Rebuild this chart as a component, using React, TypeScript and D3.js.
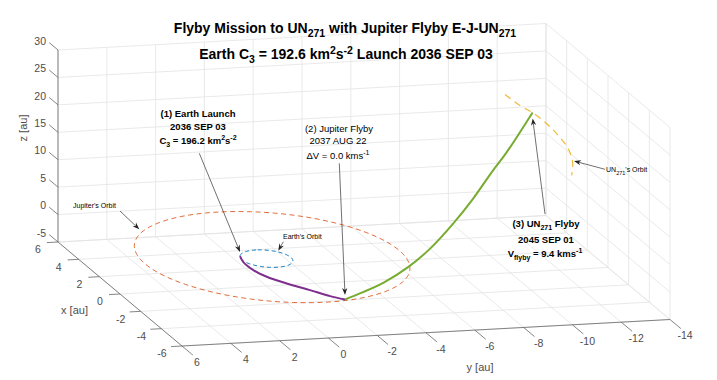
import React, { useLayoutEffect } from 'react';
import * as d3 from 'd3';

const W = 717;
const H = 380;

// Axis limits and ticks
const xLim = [6, -6];
const yLim = [6, -14];
const zLim = [-5, 30];
const xTicks = [-6, -4, -2, 0, 2, 4, 6];
const yTicks = [-14, -12, -10, -8, -6, -4, -2, 0, 2, 4, 6];
const zTicks = [-5, 0, 5, 10, 15, 20, 25, 30];

// Planet orbits (centre x, centre y, radius) in au, ecliptic plane z = 0
const earthOrbit = [0, 0, 1.0];
const jupiterOrbit = [0.13, -0.29, 5.2];

// Leg 1: Earth -> Jupiter
const leg1X = [0.43, -0.21, -1.17, -1.97, -2.81, -3.67, -4.44, -4.89];
const leg1Y = [0.9, 1.04, 1.03, 0.82, 0.36, -0.23, -0.73, -1.15];
const leg1Z = [0, 0, 0, 0, 0, 0, 0, 0];

// Leg 2: Jupiter -> UN271
const leg2X = [-4.89, -4.26, -3.28, -2.22, -1.32, -0.34, 0.51, 1.28, 1.91, 3.0];
const leg2Y = [-1.15, -2.03, -3.4, -4.88, -6.15, -7.51, -8.69, -9.78, -10.66, -12.18];
const leg2Z = [0, -0.1, -0.06, 0.82, 2.42, 5.1, 8.04, 11.39, 13.82, 18.97];

// UN271 orbit arc
const unX = [3, 3, 3, 3, 3, 3, 3, 3];
const unY = [-11.05, -11.66, -12.18, -12.76, -13.23, -13.64, -13.82, -13.78];
const unZ = [22.52, 20.37, 18.91, 16.76, 14.52, 11.99, 9.5, 7.09];

const FONT = '"Liberation Sans", Arial, Helvetica, sans-serif';

export default function App() {
  useLayoutEffect(() => {
    document.body.style.margin = '0';
  }, []);

  const sX = d3.scaleLinear().domain(xLim).range([0, 1]);
  const sY = d3.scaleLinear().domain(yLim).range([0, 1]);
  const sZ = d3.scaleLinear().domain(zLim).range([0, 1]);
  const O = [58, 242];
  const EX = [124, 104];
  const EY = [488, -26.5];
  const EZ = [0, -192];
  const P = (x: number, y: number, z: number): [number, number] => {
    const a = sX(x), b = sY(y), c = sZ(z);
    return [O[0] + a * EX[0] + b * EY[0] + c * EZ[0], O[1] + a * EX[1] + b * EY[1] + c * EZ[1]];
  };
  const seg = (a: number[], b: number[]) => `M${a[0]},${a[1]}L${b[0]},${b[1]}`;
  const smooth = d3.line<[number, number]>().x((d) => d[0]).y((d) => d[1]).curve(d3.curveCatmullRom);
  const poly = d3.line<[number, number]>().x((d) => d[0]).y((d) => d[1]);

  const grid: string[] = [];
  xTicks.forEach((x) => {
    grid.push(seg(P(x, 6, -5), P(x, -14, -5)));
    grid.push(seg(P(x, -14, -5), P(x, -14, 30)));
  });
  yTicks.forEach((y) => {
    grid.push(seg(P(-6, y, -5), P(6, y, -5)));
    grid.push(seg(P(6, y, -5), P(6, y, 30)));
  });
  zTicks.forEach((z) => {
    grid.push(seg(P(6, 6, z), P(6, -14, z)));
    grid.push(seg(P(6, -14, z), P(-6, -14, z)));
  });

  const circle = (o: number[]) =>
    poly(d3.range(0, 361, 2).map((deg) => {
      const t = (deg * Math.PI) / 180;
      return P(o[0] + o[2] * Math.cos(t), o[1] + o[2] * Math.sin(t), 0);
    }));

  const leg1 = smooth(leg1X.map((x, i) => P(x, leg1Y[i], leg1Z[i])));
  const leg2 = smooth(leg2X.map((x, i) => P(x, leg2Y[i], leg2Z[i])));
  const unArc = smooth(unX.map((x, i) => P(x, unY[i], unZ[i])));

  const tickCol = '#4d4d4d';
  const arrow = (x1: number, y1: number, x2: number, y2: number, key: string) => {
    const dx = x2 - x1, dy = y2 - y1;
    const len = Math.hypot(dx, dy);
    const ux = dx / len, uy = dy / len;
    const nx = -uy, ny = ux;
    const L = 7, w = 2.6;
    const pts = [
      [x2, y2],
      [x2 - L * ux + w * nx, y2 - L * uy + w * ny],
      [x2 - 0.7 * L * ux, y2 - 0.7 * L * uy],
      [x2 - L * ux - w * nx, y2 - L * uy - w * ny],
    ];
    return (
      <g key={key}>
        <path d={`M${x1},${y1}L${x2 - 0.7 * L * ux},${y2 - 0.7 * L * uy}`} stroke="#333" strokeWidth={0.7} fill="none" />
        <polygon points={pts.map((p) => p.join(',')).join(' ')} fill="#222" />
      </g>
    );
  };

  return (
    <svg width={W} height={H} style={{ display: 'block', position: 'absolute', left: 0, top: 0, background: '#fff' }} fontFamily={FONT}>
      <rect width={W} height={H} fill="#fff" />
      {/* grid */}
      <g stroke="#e3e3e3" strokeWidth={0.8} fill="none">
        {grid.map((d, i) => (
          <path key={i} d={d} />
        ))}
      </g>
      {/* axis lines */}
      <g stroke="#666" strokeWidth={0.8} fill="none">
        <path d={seg(P(6, 6, -5), P(6, 6, 30))} />
        <path d={seg(P(6, 6, -5), P(-6, 6, -5))} />
        <path d={seg(P(-6, 6, -5), P(-6, -14, -5))} />
      </g>
      {/* ticks and labels */}
      <g stroke="#666" strokeWidth={0.8}>
        {zTicks.map((z) => {
          const a = P(6, 6, z);
          return <path key={'zt' + z} d={seg(a, [a[0] - 8.8, a[1] - 7.4])} />;
        })}
        {xTicks.map((x) => {
          const a = P(x, 6, -5);
          return <path key={'xt' + x} d={seg(a, [a[0] - 11, a[1] + 0.6])} />;
        })}
        {yTicks.map((y) => {
          const a = P(-6, y, -5);
          return <path key={'yt' + y} d={seg(a, [a[0] + 10.9, a[1] + 9.1])} />;
        })}
      </g>
      <g fill={tickCol} fontSize={10.5}>
        {zTicks.map((z) => {
          const a = P(6, 6, z);
          return (
            <text key={'zl' + z} x={a[0] - 12} y={a[1] - 5.3} textAnchor="end">
              {z}
            </text>
          );
        })}
        {xTicks.map((x) => {
          const a = P(x, 6, -5);
          return (
            <text key={'xl' + x} x={a[0] - 20} y={a[1] + 11.3} textAnchor="middle">
              {x}
            </text>
          );
        })}
        {yTicks.map((y) => {
          const a = P(-6, y, -5);
          return (
            <text key={'yl' + y} x={a[0] + 15} y={a[1] + 19.8} textAnchor="middle">
              {y}
            </text>
          );
        })}
      </g>
      <g fill={tickCol} fontSize={11}>
        <text x={74.5} y={314} textAnchor="middle">x [au]</text>
        <text x={480} y={371} textAnchor="middle">y [au]</text>
        <text transform="translate(27,128) rotate(-90)" textAnchor="middle">z [au]</text>
      </g>

      {/* orbits */}
      <path d={circle(jupiterOrbit) || ''} fill="none" stroke="#D95319" strokeOpacity={0.85} strokeWidth={1} strokeDasharray="5,3.5" />
      <path d={circle(earthOrbit) || ''} fill="none" stroke="#0072BD" strokeWidth={1} strokeDasharray="4,3" />
      <path d={unArc || ''} fill="none" stroke="#EDB120" strokeOpacity={0.9} strokeWidth={1.2} strokeDasharray="7,5" />
      {/* transfer legs */}
      <path d={leg1 || ''} fill="none" stroke="#7E2F8E" strokeWidth={2} />
      <path d={leg2 || ''} fill="none" stroke="#77AC30" strokeWidth={2} />

      {/* title */}
      <g fontWeight="bold" fontSize={14} fill="#000">
        <text x={345} y={33} textAnchor="middle">
          {'Flyby Mission to UN'}
          <tspan dy={4} fontSize={10.5}>271</tspan>
          <tspan dy={-4}>{' with Jupiter Flyby E-J-UN'}</tspan>
          <tspan dy={4} fontSize={10.5}>271</tspan>
        </text>
        <text x={346} y={58.5} textAnchor="middle">
          {'Earth C'}
          <tspan dy={4} fontSize={10.5}>3</tspan>
          <tspan dy={-4}>{' = 192.6 km'}</tspan>
          <tspan dy={-5} fontSize={10.5}>2</tspan>
          <tspan dy={5}>s</tspan>
          <tspan dy={-5} fontSize={10.5}>-2</tspan>
          <tspan dy={5}>{' Launch 2036 SEP 03'}</tspan>
        </text>
      </g>

      {/* annotations */}
      <g fontSize={9.5} fill="#000">
        <g fontWeight="bold" textAnchor="middle">
          <text x={198} y={117.3}>(1) Earth Launch</text>
          <text x={198} y={130.3}>2036 SEP 03</text>
          <text x={198} y={144.3}>
            {'C'}
            <tspan dy={3} fontSize={7}>3</tspan>
            <tspan dy={-3}>{' = 196.2 km'}</tspan>
            <tspan dy={-4} fontSize={7}>2</tspan>
            <tspan dy={4}>s</tspan>
            <tspan dy={-4} fontSize={7}>-2</tspan>
          </text>
        </g>
        <g textAnchor="middle">
          <text x={339} y={131.7}>(2) Jupiter Flyby</text>
          <text x={338} y={144.3}>2037 AUG 22</text>
          <text x={338} y={159.3}>
            {'ΔV = 0.0 kms'}
            <tspan dy={-4} fontSize={7}>-1</tspan>
          </text>
        </g>
        <g fontWeight="bold" textAnchor="middle">
          <text x={546} y={226.7}>
            {'(3) UN'}
            <tspan dy={3} fontSize={7}>271</tspan>
            <tspan dy={-3}>{' Flyby'}</tspan>
          </text>
          <text x={546} y={242.7}>2045 SEP 01</text>
          <text x={545} y={257.3}>
            {'V'}
            <tspan dy={3} fontSize={7}>flyby</tspan>
            <tspan dy={-3}>{' = 9.4 kms'}</tspan>
            <tspan dy={-4} fontSize={7}>-1</tspan>
          </text>
        </g>
      </g>
      <g fontSize={7} fill="#000">
        <text x={73} y={208}>Jupiter's Orbit</text>
        <text x={283} y={239}>Earth's Orbit</text>
        <text x={606} y={172}>
          {'UN'}
          <tspan dy={2.5} fontSize={5.5}>271</tspan>
          <tspan dy={-2.5}>'s Orbit</tspan>
        </text>
      </g>
      {arrow(199.3, 153.3, 240, 252, 'a1')}
      {arrow(339.3, 163.3, 345, 295, 'a2')}
      {arrow(545, 214, 532.7, 118.5, 'a3')}
      {arrow(120, 211, 139.3, 229.3, 'a4')}
      {arrow(283.3, 241.7, 278.3, 250.7, 'a5')}
      {arrow(605, 169.3, 574, 161, 'a6')}
    </svg>
  );
}
